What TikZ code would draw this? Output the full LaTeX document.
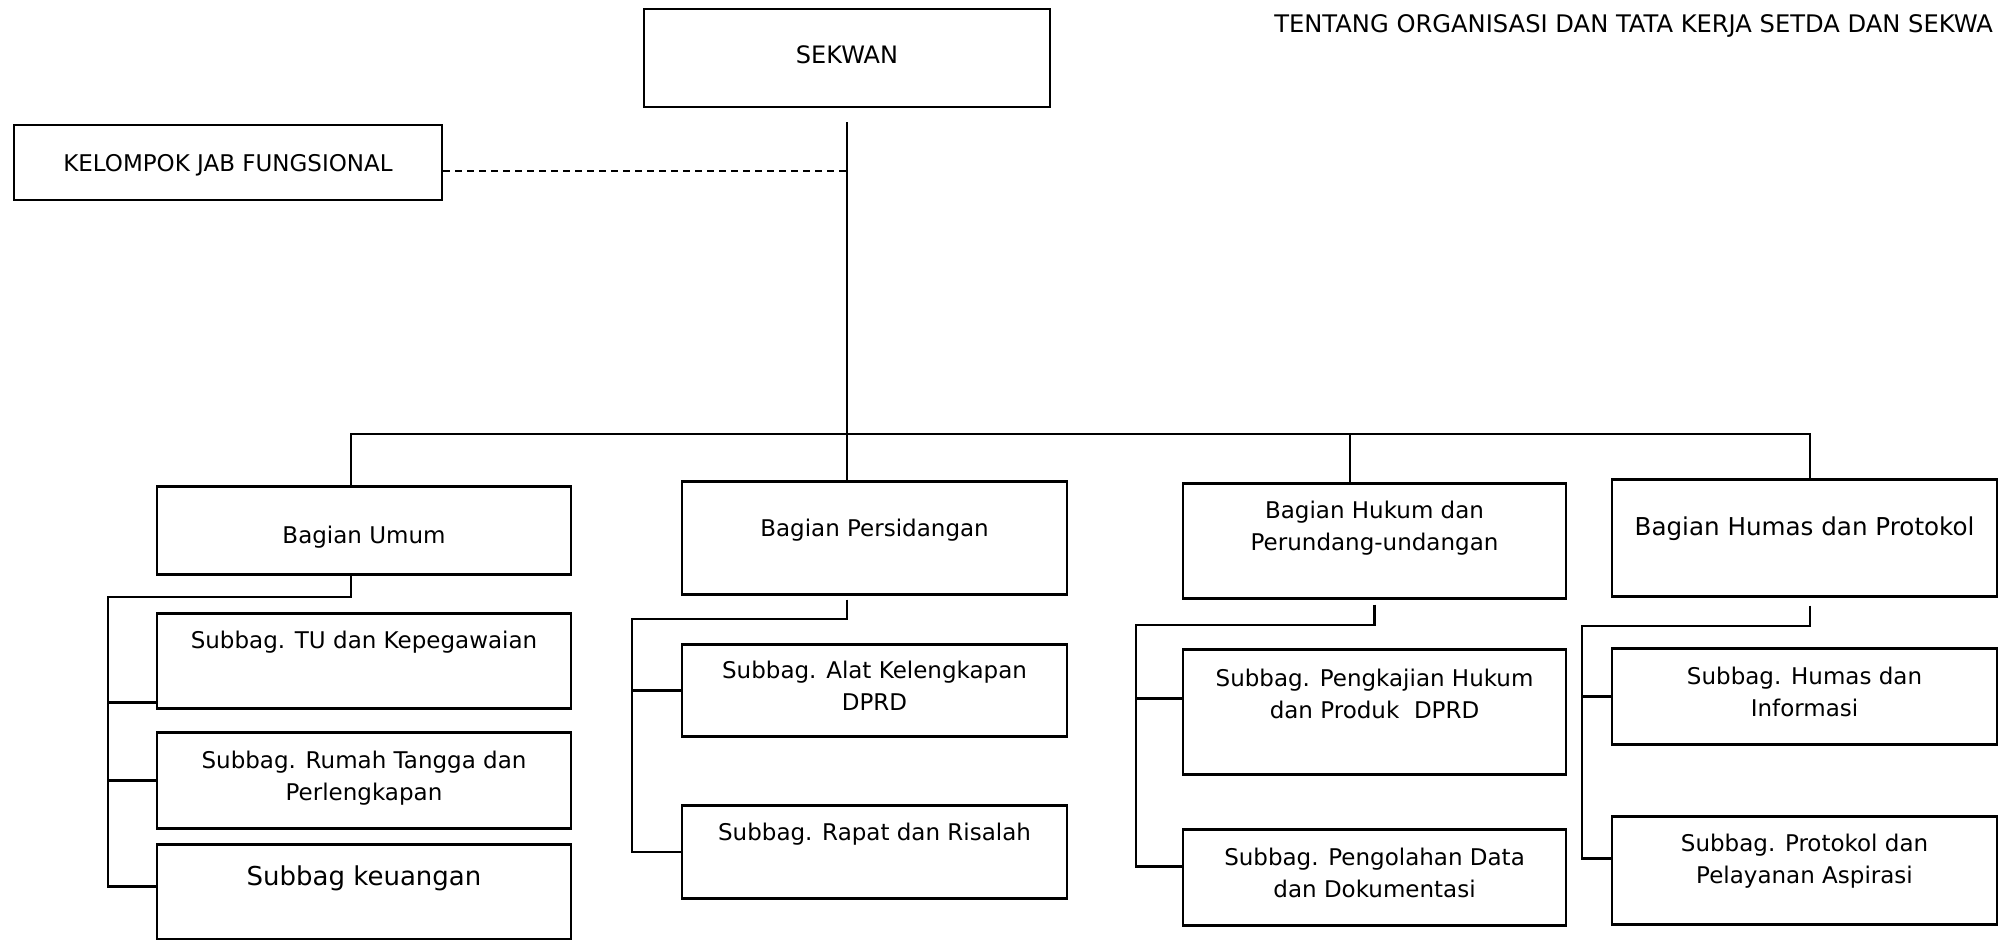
\documentclass[tikz,border=0pt]{standalone}
\usepackage{fontspec}
\setmainfont{DejaVu Sans}
\usetikzlibrary{calc}
\tikzset{kotak/.style={draw,line width=1.25pt,inner xsep=0pt,inner ysep=0pt,align=center,anchor=north,font=\fontsize{11.5}{16}\selectfont}}
\tikzset{garis/.style={line width=1.25pt}}

\begin{document}
\begin{tikzpicture}[x=0.5pt,y=-0.5pt]
  \useasboundingbox (0,0) rectangle (2000,940);

  \node[anchor=base east,font=\fontsize{12.1}{14}\selectfont] (judul) at (2000,33)
    {TENTANG ORGANISASI DAN TATA KERJA SETDA DAN SEKWA};

  % pimpinan
  \node[kotak,minimum width=203pt,text height=27pt,text depth=22pt,font=\fontsize{12}{16}\selectfont] (sekwan) at (847,8) {SEKWAN};
  \node[kotak,minimum width=214pt,text height=23pt,text depth=14.5pt] (kelompok) at (228,124) {KELOMPOK JAB FUNGSIONAL};

  % bagian
  \node[kotak,minimum width=207pt,text height=28.5pt,text depth=15.5pt] (umum) at (364,485) {Bagian Umum};
  \node[kotak,minimum width=192.5pt,text height=27.5pt,text depth=29pt] (persidangan) at (874.5,480) {Bagian Persidangan};
  \node[kotak,minimum width=191.5pt,text height=33.5pt,text depth=24pt] (hukum) at (1374.5,482) {Bagian Hukum dan\\Perundang-undangan};
  \node[kotak,minimum width=192.5pt,text height=28pt,text depth=30.5pt,font=\fontsize{12.3}{16}\selectfont] (humas) at (1804.5,478) {Bagian Humas dan Protokol};

  % subbag (tinggi teks diukur ke baris terakhir)
  \node[kotak,minimum width=207pt,text height=17.5pt,text depth=30pt] (tu) at (364,612) {Subbag. TU dan Kepegawaian};
  \node[kotak,minimum width=207pt,text height=34pt,text depth=14pt] (rumah) at (364,731) {Subbag. Rumah Tangga dan\\Perlengkapan};
  \node[kotak,minimum width=207pt,text height=20.5pt,text depth=27pt,font=\fontsize{13}{16}\selectfont] (keuangan) at (364,843) {Subbag keuangan};
  \node[kotak,minimum width=192.5pt,text height=33pt,text depth=13pt] (alat) at (874.5,643) {Subbag. Alat Kelengkapan\\DPRD};
  \node[kotak,minimum width=192.5pt,text height=17.5pt,text depth=29pt] (rapat) at (874.5,804) {Subbag. Rapat dan Risalah};
  \node[kotak,minimum width=191.5pt,text height=34.5pt,text depth=28pt] (pengkajian) at (1374.5,648) {Subbag. Pengkajian Hukum\\dan Produk\ \ DPRD};
  \node[kotak,minimum width=191.5pt,text height=34pt,text depth=14pt] (pengolahan) at (1374.5,828) {Subbag. Pengolahan Data\\dan Dokumentasi};
  \node[kotak,minimum width=192.5pt,text height=34pt,text depth=14pt] (informasi) at (1804.5,647) {Subbag. Humas dan\\Informasi};
  \node[kotak,minimum width=192.5pt,text height=33.5pt,text depth=20.5pt] (protokol) at (1804.5,815) {Subbag. Protokol dan\\Pelayanan Aspirasi};

  % garis komando
  \coordinate (ju) at (351,434);
  \coordinate (jk) at (1350,434);
  \coordinate (jm) at (1810,434);
  \draw[garis,shorten <=7pt] (sekwan.south) -- (sekwan.south |- persidangan.north);
  \draw[garis] (ju |- umum.north) -- (ju) -- (jm) -- (jm |- humas.north);
  \draw[garis] (jk) -- (jk |- hukum.north);

  % garis koordinasi
  \coordinate (kj) at ([yshift=-4pt]kelompok.east);
  \draw[line width=1.1pt,dash pattern=on 3.5pt off 2.5pt] (kj) -- (kj -| sekwan.south);

  % cabang subbag
  \coordinate (su) at (108,597);
  \coordinate (sp) at (632,619);
  \coordinate (sh) at (1136,625);
  \coordinate (sm) at (1582,626);
  \foreach \b/\s/\dy in {tu/su/-20.75,rumah/su/0,keuangan/su/2.75,alat/sp/0,rapat/sp/0,
      pengkajian/sh/6.75,pengolahan/sh/5.5,informasi/sm/0,protokol/sm/6}{
    \coordinate (b-\b) at ([yshift=\dy pt]\b.west);
  }
  \draw[garis] (ju |- umum.south) |- (su) |- (b-keuangan);
  \draw[garis,shorten <=2pt] (sekwan.south |- persidangan.south) |- (sp) |- (b-rapat);
  \draw[garis,shorten <=2.5pt] (hukum.south) |- (sh) |- (b-pengolahan);
  \draw[garis,shorten <=4pt] (jm |- humas.south) |- (sm) |- (b-protokol);
  \foreach \b/\s in {tu/su,rumah/su,alat/sp,pengkajian/sh,informasi/sm}{
    \draw[garis] (b-\b) -- (b-\b -| \s);
  }
\end{tikzpicture}
\end{document}
